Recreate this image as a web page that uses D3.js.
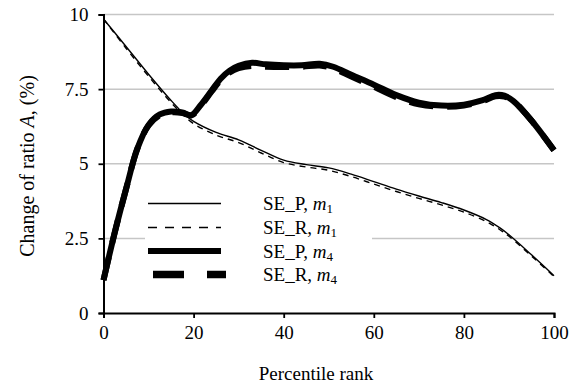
<!DOCTYPE html>
<html>
<head>
<meta charset="utf-8">
<script src="https://cdn.jsdelivr.net/npm/d3@7"></script>
<style>
  body { margin: 0; background: #fff; }
  svg text { font-family: "Liberation Serif", "Times New Roman", serif; fill: #000; }
</style>
</head>
<body>
<div id="chart"></div>
<script>
// percentile rank positions for each series
const seP1X = [0, 5, 10, 15, 18, 20, 25, 30, 35, 40, 45, 50, 55, 60, 65, 70, 75, 80, 85, 88, 90, 95, 100];
const seP1Y = [9.85, 8.93, 8.0, 7.12, 6.65, 6.42, 6.05, 5.8, 5.45, 5.12, 4.97, 4.86, 4.65, 4.4, 4.15, 3.92, 3.7, 3.45, 3.13, 2.85, 2.62, 1.95, 1.25];
const seR1Y = [9.85, 8.87, 7.93, 7.05, 6.59, 6.34, 5.96, 5.71, 5.36, 5.04, 4.89, 4.78, 4.57, 4.32, 4.07, 3.84, 3.62, 3.38, 3.06, 2.79, 2.57, 1.91, 1.22];

const seP4X = [0, 2.5, 5, 7.5, 10, 12.5, 15, 17.5, 19.5, 21.5, 24, 26, 28, 30, 33, 36, 40, 44, 48, 51, 55, 60, 65, 70, 75, 80, 84, 87, 89, 91, 95, 100];
const seP4Y = [1.1, 2.7, 4.15, 5.5, 6.3, 6.65, 6.75, 6.72, 6.63, 6.95, 7.45, 7.85, 8.12, 8.28, 8.38, 8.33, 8.3, 8.3, 8.35, 8.25, 7.98, 7.65, 7.3, 7.05, 6.95, 6.98, 7.12, 7.3, 7.28, 7.1, 6.45, 5.45];
const seR4Y = [1.1, 2.7, 4.15, 5.5, 6.28, 6.63, 6.72, 6.7, 6.62, 6.92, 7.42, 7.8, 8.06, 8.2, 8.28, 8.25, 8.24, 8.25, 8.29, 8.19, 7.92, 7.58, 7.23, 6.99, 6.91, 6.95, 7.09, 7.26, 7.25, 7.1, 6.45, 5.45];

const xTicks = [0, 20, 40, 60, 80, 100];
const yTicks = [0, 2.5, 5, 7.5, 10];
const legendNames = [["SE_P, ", "1"], ["SE_R, ", "1"], ["SE_P, ", "4"], ["SE_R, ", "4"]];

const W = 581, H = 387;
const margin = { top: 14.5, right: 27, bottom: 74, left: 103.5 };
const width = W - margin.left - margin.right;
const height = H - margin.top - margin.bottom;

const svg = d3.select('#chart').append('svg')
  .attr('width', W)
  .attr('height', H);

const g = svg.append('g')
  .attr('transform', 'translate(' + margin.left + ',' + margin.top + ')');

const x = d3.scaleLinear().domain([0, 100]).range([0, width]);
const y = d3.scaleLinear().domain([0, 10]).range([height, 0]);

// gridlines
g.selectAll('.grid')
  .data(yTicks.filter(d => d > 0))
  .enter().append('line')
  .attr('x1', 0).attr('x2', width)
  .attr('y1', d => y(d)).attr('y2', d => y(d))
  .attr('stroke', '#c6c6c6')
  .attr('stroke-width', 1.5);

const line = d3.line()
  .x(d => x(d[0]))
  .y(d => y(d[1]))
  .curve(d3.curveCatmullRom.alpha(0.5));

const series = [
  { xs: seP1X, ys: seP1Y, w: 1.4, dash: null, lw: 1.6, ldash: null },
  { xs: seP1X, ys: seR1Y, w: 1.4, dash: '6,5', lw: 1.6, ldash: '9,8' },
  { xs: seP4X, ys: seP4Y, w: 6, dash: null, lw: 6, ldash: null },
  { xs: seP4X, ys: seR4Y, w: 6, dash: '24,14', lw: 7.5, ldash: '31,23' }
];

series.forEach(s => {
  g.append('path')
    .datum(s.xs.map((v, i) => [v, s.ys[i]]))
    .attr('fill', 'none')
    .attr('stroke', '#000')
    .attr('stroke-width', s.w)
    .attr('stroke-dasharray', s.dash)
    .attr('stroke-linejoin', 'round')
    .attr('d', line);
});

// legend
const legend = svg.append('g');
legend.append('rect')
  .attr('x', 145).attr('y', 188)
  .attr('width', 227).attr('height', 100)
  .attr('fill', '#fff');

const ly = [203.5, 227.5, 251, 274.5];
legendNames.forEach((n, i) => {
  const s = series[i];
  const x0 = i === 3 ? 153 : 148;
  const x1 = i === 3 ? 226 : 221;
  legend.append('line')
    .attr('x1', x0).attr('x2', x1)
    .attr('y1', ly[i]).attr('y2', ly[i])
    .attr('stroke', '#000')
    .attr('stroke-width', s.lw)
    .attr('stroke-dasharray', s.ldash);
  const t = legend.append('text')
    .attr('x', 263).attr('y', ly[i])
    .attr('dy', '0.35em')
    .style('font-size', '19px');
  t.append('tspan').text(n[0]);
  t.append('tspan').style('font-style', 'italic').text('m');
  t.append('tspan').attr('dy', '0.25em').style('font-size', '13px').text(n[1]);
});

// axes
const xAxis = g.append('g')
  .attr('transform', 'translate(0,' + height + ')')
  .call(d3.axisBottom(x).tickValues(xTicks).tickSize(5).tickPadding(8));
const yAxis = g.append('g')
  .call(d3.axisLeft(y).tickValues(yTicks).tickSize(5).tickPadding(10).tickFormat(d3.format('')));

[xAxis, yAxis].forEach(a => {
  a.attr('font-family', null);
  a.select('.domain').attr('stroke', '#000').attr('stroke-width', 2);
  a.selectAll('.tick line').attr('stroke', '#000').attr('stroke-width', 1.8);
  a.selectAll('.tick text')
    .style('font-family', '"Liberation Serif", serif')
    .style('font-size', '19px')
    .attr('fill', '#000');
});

svg.append('text')
  .attr('x', 316).attr('y', 373)
  .attr('text-anchor', 'middle')
  .attr('dy', '0.35em')
  .style('font-size', '19px')
  .text('Percentile rank');

const yl = svg.append('text')
  .attr('transform', 'translate(27,166) rotate(-90)')
  .attr('text-anchor', 'middle')
  .attr('dy', '0.35em')
  .style('font-size', '20px');
yl.append('tspan').text('Change of ratio ');
yl.append('tspan').style('font-style', 'italic').text('A');
yl.append('tspan').text(', (%)');
</script>
</body>
</html>
